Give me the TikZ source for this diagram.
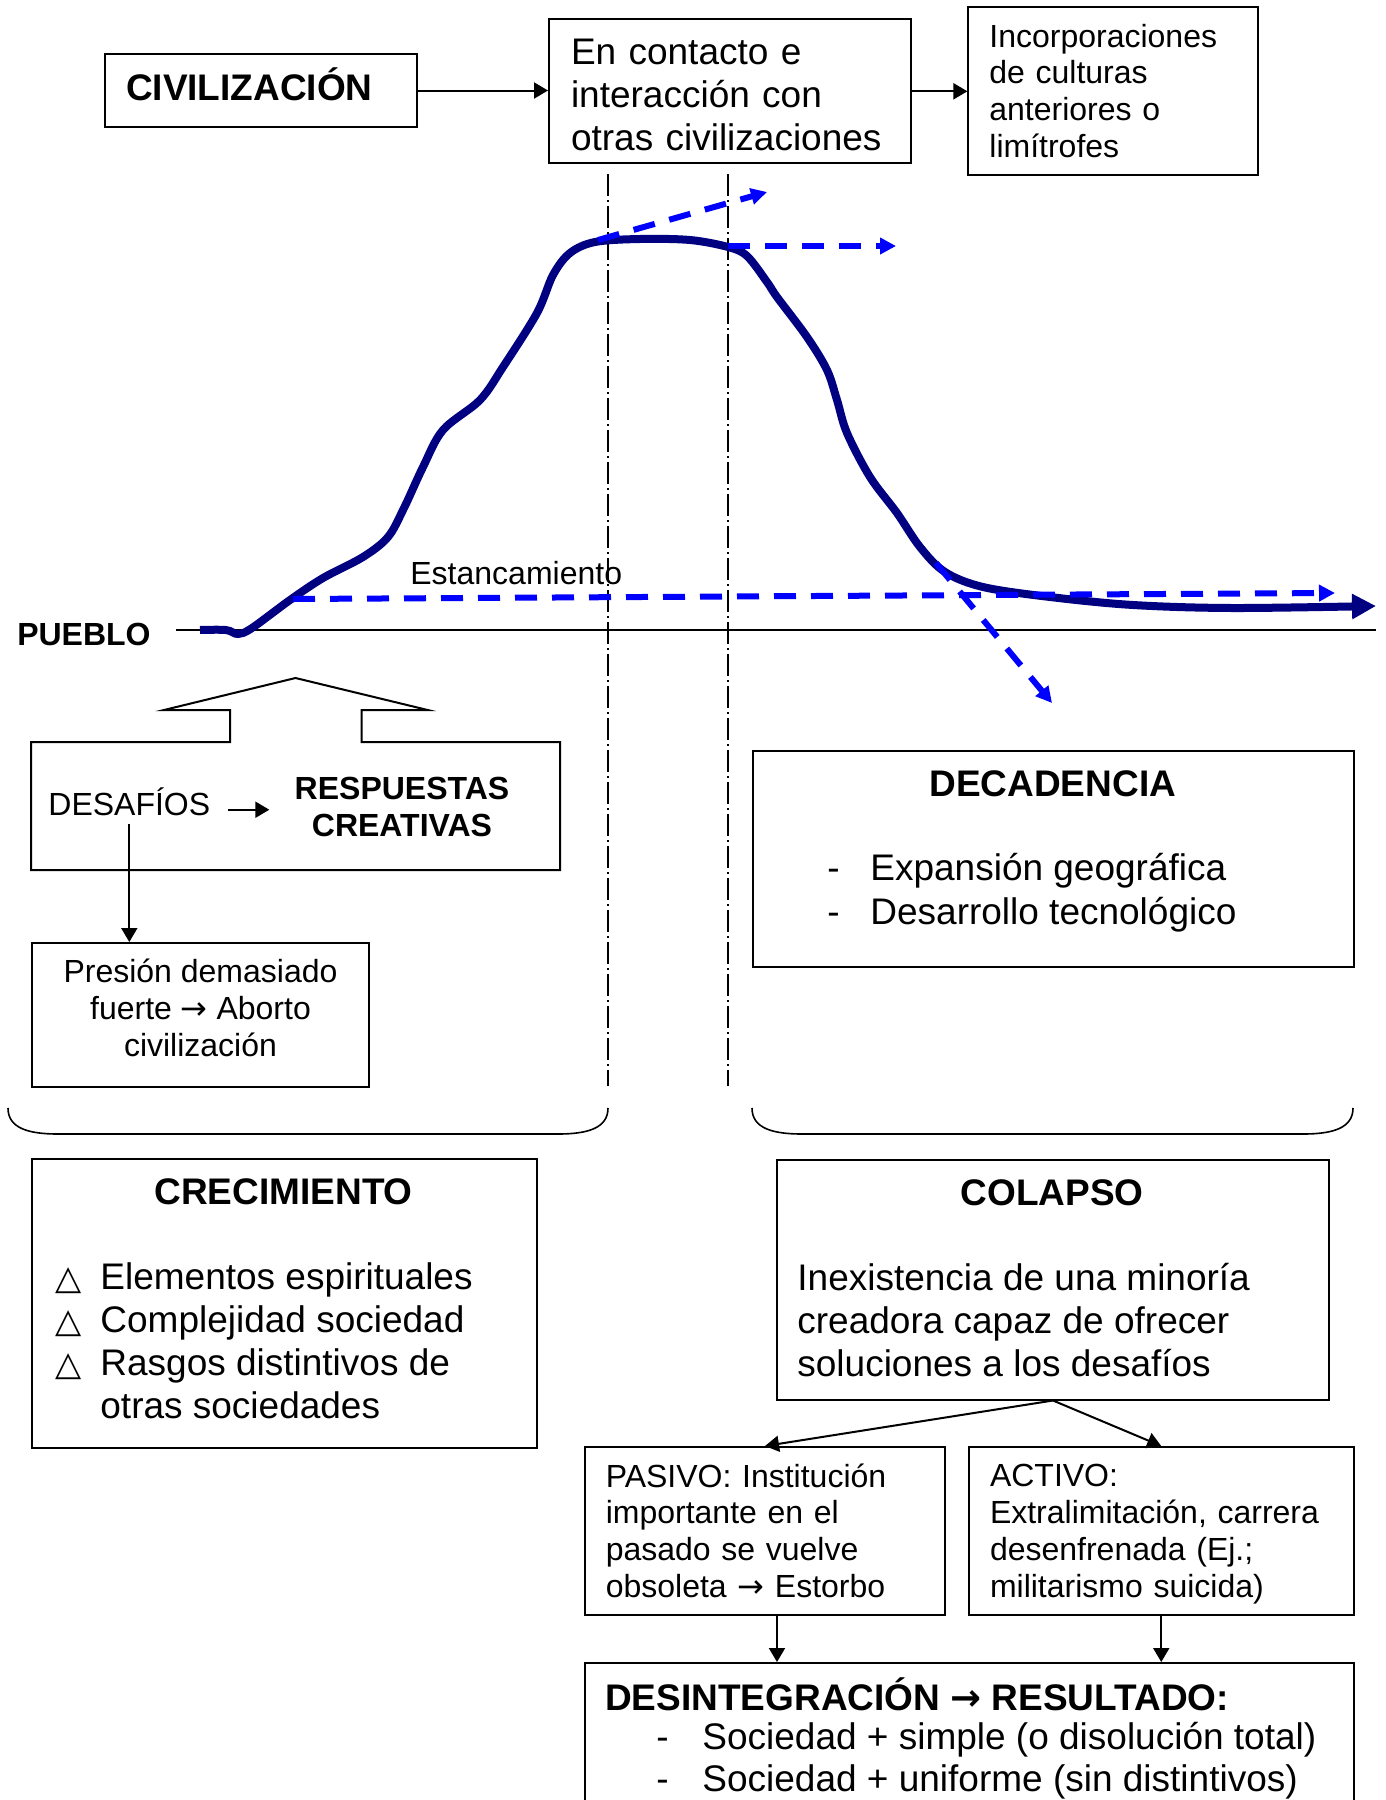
\documentclass[tikz,border=0pt]{standalone}
\usepackage{fontspec}
\setmainfont{Liberation Sans}
\newfontfamily\symfont{DejaVu Sans}
\usetikzlibrary{arrows.meta, positioning, calc}

\definecolor{curvenavy}{RGB}{0,0,128}
\definecolor{dashblue}{RGB}{0,0,255}

\newcommand{\bigfont}{\fontsize{18.5}{21.5}\selectfont}
\newcommand{\medfont}{\fontsize{16}{18.4}\selectfont}
\newcommand{\uptri}{\makebox[22.5pt][l]{\fontsize{17}{17}\symfont △}}
\newcommand{\itemdash}[1]{\makebox[#1][l]{-}}
\newcommand{\toarrow}{{\symfont →}}

\begin{document}
\begin{tikzpicture}[x=0.5pt, y=-0.5pt,
    box/.style={draw, line width=1pt, inner sep=0pt, anchor=north west},
    txtbox/.style={box, align=left},
    txt/.style={inner sep=0pt},
    arr/.style={-{Triangle[length=7pt, width=8pt]}, line width=1pt},
    bluearr/.style={dashblue, line width=3pt, dash pattern=on 11pt off 7.5pt, -{Triangle[length=8pt, width=8pt]}},
    guide/.style={line width=0.7pt, dash pattern=on 11pt off 2pt on 1pt off 2pt}]
\useasboundingbox (0,0) rectangle (1386,1800);

% top row
\node[txtbox, font=\bigfont\bfseries, text width=134.8pt, inner xsep=10.7pt, text depth=6pt, minimum height=36.5pt] (civ) at (103.6,53) {CIVILIZACIÓN};
\node[txtbox, font=\bigfont, text width=158.85pt, inner xsep=11pt, text height=16.75pt, minimum height=72pt] (contacto) at (548,18.3) {En contacto e\\interacción con\\otras civilizaciones};
\node[txtbox, font=\medfont, text width=123.6pt, inner xsep=10.5pt, minimum height=84.15pt] (incorp) at (967.4,5.7) {Incorporaciones\\de culturas\\anteriores o\\limítrofes};
\draw[arr] (civ.east) -- (civ.east -| contacto.west);
\draw[arr] (contacto.east) -- (contacto.east -| incorp.west);

% guide lines
\coordinate (g1top) at (608,174); \coordinate (g1bot) at (608,1086);
\coordinate (g2top) at (728,174); \coordinate (g2bot) at (728,1086);
\draw[guide] (g1top) -- (g1bot);
\draw[guide] (g2top) -- (g2bot);

% axis
\node[txt, font=\medfont\bfseries, anchor=base east] (pueblo) at (151,645) {PUEBLO};
\coordinate (axisL) at (176,630);
\coordinate (axisR) at (1376,630);
\draw[line width=0.7pt] (axisL) -- (axisR);

% curve
\draw[curvenavy, line width=4pt, -{Triangle[length=12pt, width=12pt]}]
  plot[smooth, tension=0.55] coordinates {(200,630) (226,630) (238,634) (252,628) (290,600) (323,578) (363,557) (388,537) (404,508) (423,467) (443,430) (480,400) (503,367) (537,313) (553,275) (570,253) (595,242) (640,239) (690,240) (728,247) (747,256) (767,282) (777,297) (807,337) (827,370) (837,400) (847,433) (870,477) (897,513) (920,547) (945,572) (983,587) (1050,597) (1133,605) (1233,608) (1376,606)};

% blue dashed arrows
\coordinate (upStart) at (598,240);   \coordinate (upEnd) at (767,192);
\coordinate (flatStart) at (728,246); \coordinate (flatEnd) at (896,246);
\coordinate (stagStart) at (293,599); \coordinate (stagEnd) at (1335,593);
\coordinate (downStart) at (936,563); \coordinate (downEnd) at (1052,703);
\draw[bluearr] (upStart) -- (upEnd);
\draw[bluearr] (flatStart) -- (flatEnd);
\draw[bluearr] (stagStart) -- (stagEnd);
\draw[bluearr] (downStart) -- (downEnd);
\node[txt, font=\medfont, anchor=base west] (estanc) at (410,584) {Estancamiento};

% challenge box with block arrow
\draw[line width=1pt] (230,742) -- (31,742) -- (31,870) -- (560,870) -- (560,742) -- (361.6,742) -- (361.6,710) -- (427.7,710) -- (295.5,678) -- (164,710) -- (230,710) -- cycle;
\node[txt, font=\medfont, anchor=base west] (desafios) at (48,815) {DESAFÍOS};
\node[txt, font=\medfont\bfseries, align=center, anchor=base] (respuestas) at (402,836.5) {RESPUESTAS\\CREATIVAS};
\draw[arr, shorten <=8.75pt, shorten >=12.5pt] (desafios.mid east) -- (respuestas.west |- desafios.mid east);

\node[txtbox, font=\medfont, align=center, text depth=7pt, minimum width=168.5pt, minimum height=72pt] (presion) at (31,942) {Presión demasiado\\fuerte \toarrow{} Aborto\\civilización};
\draw[arr, shorten <=4pt] (desafios.south) -- (desafios.south |- presion.north);

% decadence
\node[box, minimum width=300.5pt, minimum height=108pt] (decad) at (752,750) {};
\node[txt, font=\bigfont\bfseries, anchor=base] (decadT) at (1052.7,796) {DECADENCIA};
\node[txt, font=\fontsize{18.5}{22}\selectfont, align=left, anchor=base west] (decadL) at (827,924) {\itemdash{21.5pt}Expansión geográfica\\\itemdash{21.5pt}Desarrollo tecnológico};

% braces
\draw[line width=0.8pt] (8,1108) .. controls (8,1128) and (28,1134) .. (58,1134) -- (558,1134) .. controls (588,1134) and (608,1128) .. (608,1108);
\draw[line width=0.8pt] (752,1108) .. controls (752,1128) and (772,1134) .. (802,1134) -- (1303,1134) .. controls (1333,1134) and (1353,1128) .. (1353,1108);

% growth
\node[box, minimum width=252.5pt, minimum height=144.5pt] (crec) at (31,1158) {};
\node[txt, font=\bigfont\bfseries, anchor=base] (crecT) at (283.6,1204) {CRECIMIENTO};
\node[txt, font=\bigfont, align=left, anchor=base west] (crecL) at (55,1418) {\uptri Elementos espirituales\\\uptri Complejidad sociedad\\\uptri Rasgos distintivos de\\\hspace*{22.5pt}otras sociedades};

% collapse
\node[box, minimum width=276pt, minimum height=119.75pt] (colapso) at (776,1159) {};
\node[txt, font=\bigfont\bfseries, anchor=base] (colapsoT) at (1052,1205) {COLAPSO};
\node[txt, font=\bigfont, align=left, anchor=base west] (colapsoL) at (797,1376) {Inexistencia de una minoría\\creadora capaz de ofrecer\\soluciones a los desafíos};

\node[txtbox, font=\medfont, text width=159.2pt, inner xsep=10.4pt, minimum height=83.75pt] (pasivo) at (584,1446) {PASIVO: Institución\\importante en el\\pasado se vuelve\\obsoleta \toarrow{} Estorbo};
\node[txtbox, font=\medfont, text width=171.25pt, inner xsep=10.5pt, text depth=55.2pt, minimum height=83.75pt] (activo) at (968,1446) {ACTIVO:\\Extralimitación, carrera\\desenfrenada (Ej.;\\militarismo suicida)};
\draw[arr] (colapso.south) -- (pasivo.north);
\draw[arr] (colapso.south) -- (activo.north);

% disintegration
\node[box, minimum width=384.25pt, minimum height=94pt] (desint) at (584,1662) {};
\coordinate (pasivoOut) at ([xshift=6pt]pasivo.south);
\draw[arr] (pasivoOut) -- (pasivoOut |- desint.north);
\draw[arr] (activo.south) -- (activo.south |- desint.north);
\node[txt, font=\bigfont\bfseries, anchor=base west] (desintT) at (604.8,1710) {DESINTEGRACIÓN \toarrow{} RESULTADO:};
\node[txt, font=\fontsize{18.5}{21}\selectfont, align=left, anchor=base west] (desintL) at (656,1791) {\itemdash{23pt}Sociedad + simple (o disolución total)\\\itemdash{23pt}Sociedad + uniforme (sin distintivos)};
\end{tikzpicture}
\end{document}
